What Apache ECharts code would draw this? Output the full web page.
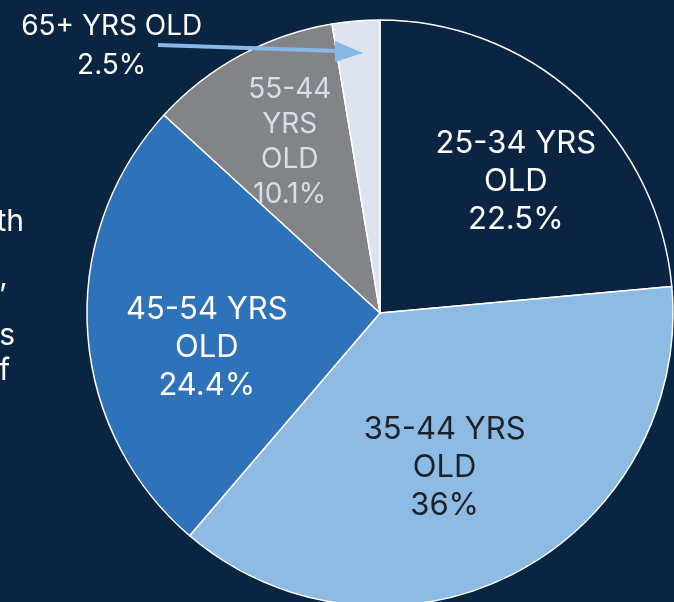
<!DOCTYPE html>
<html>
<head>
<meta charset="utf-8">
<script src="https://cdn.jsdelivr.net/npm/echarts@6/dist/echarts.min.js"></script>
<style>
  html, body { margin: 0; padding: 0; background: #0a2542; }
  #ageChart { width: 674px; height: 602px; }
</style>
</head>
<body>
<div id="ageChart"></div>
<script>
!function () {
    // chart data
    const categories = ['25-34 YRS OLD', '35-44 YRS OLD', '45-54 YRS OLD', '55-44 YRS OLD', '65+ YRS OLD'];
    const values = [22.5, 36, 24.4, 10.1, 2.5];
    const labelTexts = ['25-34 YRS\nOLD', '35-44 YRS\nOLD', '45-54 YRS\nOLD', '55-44\nYRS\nOLD', '65+ YRS OLD'];

    const sliceColors = ['#0a2441', '#8dbbe3', '#2e72b9', '#838487', '#dde3ef'];
    const textColors = ['#ffffff', '#1e2228', '#ffffff', '#d8dee8', '#ffffff'];
    const fontSizes = [31, 31, 31, 28, 28];
    const lineHeights = [38, 38, 38, 35, 39];
    // shift of each label from the default inside spot
    const labelShift = [[35, -21], [-4, 22], [-24, 26], [-19, -39], [-256, -118]];

    const FONT = 'Inter, "Noto Sans", sans-serif';
    const sideFont = '30px ' + FONT;

    let option = {
        backgroundColor: '#0a2542',
        animation: false,
        graphic: [
            // cut-off text block left of the pie
            { type: 'text', style: { x: 24, y: 207, text: 'th', fill: '#ffffff', font: sideFont, align: 'right', verticalAlign: 'alphabetic' } },
            { type: 'text', style: { x: 8, y: 262, text: ',', fill: '#ffffff', font: sideFont, align: 'right', verticalAlign: 'alphabetic' } },
            { type: 'text', style: { x: 15, y: 321, text: 's', fill: '#ffffff', font: sideFont, align: 'right', verticalAlign: 'alphabetic' } },
            { type: 'text', style: { x: 10, y: 356, text: 'f', fill: '#ffffff', font: sideFont, align: 'right', verticalAlign: 'alphabetic' } },
            // arrow to the 65+ slice
            { type: 'line', z: 100, shape: { x1: 158, y1: 45, x2: 338, y2: 51 }, style: { stroke: '#86b8e8', lineWidth: 4 } },
            { type: 'polygon', z: 100, shape: { points: [[335, 41], [363, 53], [335, 62]] }, style: { fill: '#86b8e8' } }
        ],
        series: [
            {
                name: 'Age',
                type: 'pie',
                center: [380, 313],
                radius: [0, 293],
                startAngle: 90,
                clockwise: true,
                avoidLabelOverlap: false,
                itemStyle: {
                    borderColor: '#ffffff',
                    borderWidth: 1.5
                },
                label: {
                    show: true,
                    position: 'inside',
                    fontFamily: FONT,
                    align: 'center'
                },
                labelLine: { show: false },
                labelLayout: function (params) {
                    const s = labelShift[params.dataIndex];
                    return { dx: s[0], dy: s[1] };
                },
                emphasis: { disabled: true },
                data: categories.map(function (name, i) {
                    return {
                        name: name,
                        value: values[i],
                        itemStyle: { color: sliceColors[i] },
                        label: {
                            formatter: labelTexts[i] + '\n' + values[i] + '%',
                            color: textColors[i],
                            fontSize: fontSizes[i],
                            lineHeight: lineHeights[i]
                        }
                    };
                })
            }
        ]
    };

    let myChart = echarts.init(document.getElementById('ageChart'));
    myChart && myChart.setOption(option);
}()
</script>
</body>
</html>
